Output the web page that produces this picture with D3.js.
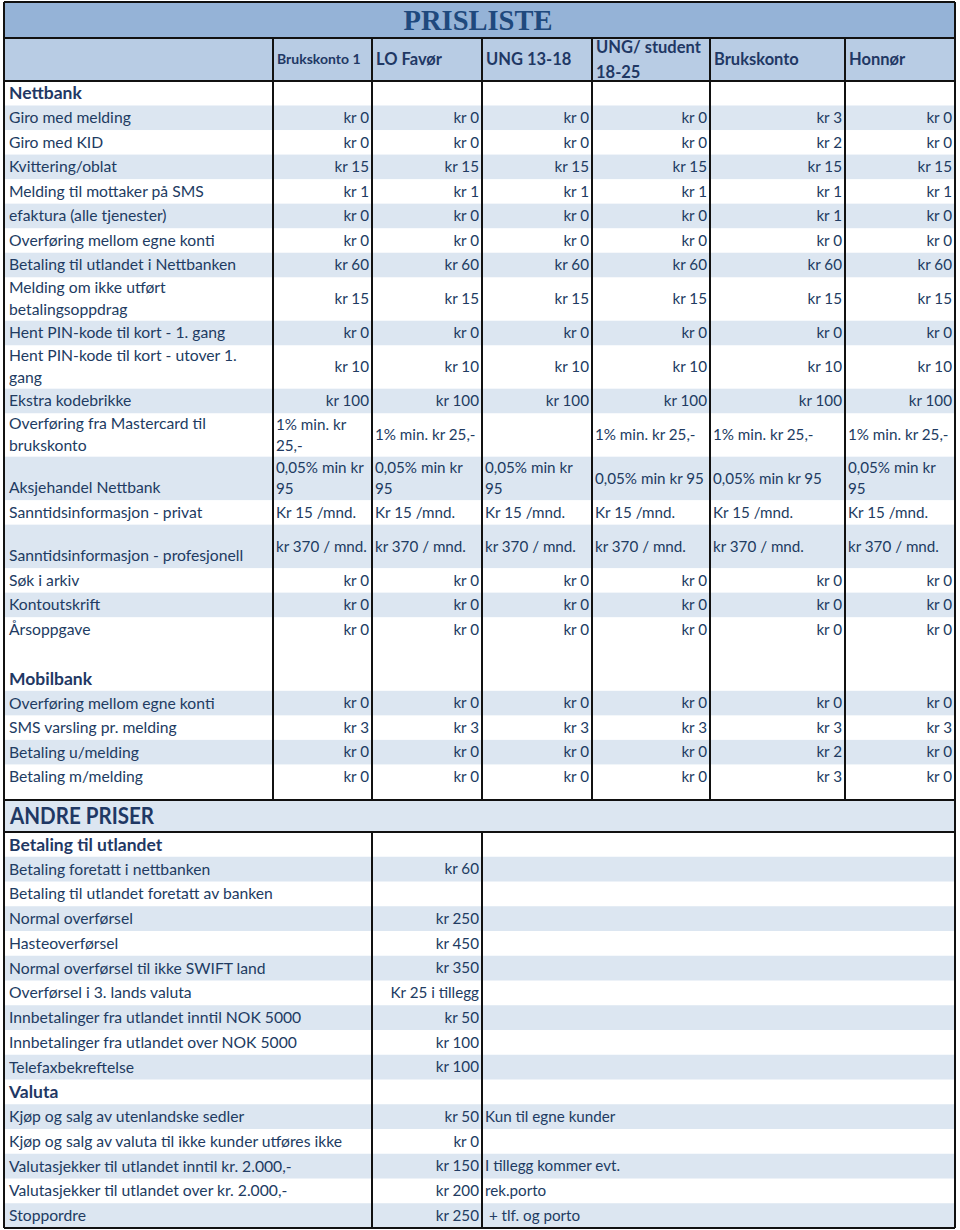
<!DOCTYPE html>
<html><head><meta charset="utf-8">
<script src="https://cdn.jsdelivr.net/npm/d3@7"></script>
<style>body{margin:0;background:#fff}</style>
</head><body><svg id="c" width="960" height="1230"></svg>
<script>
// ---------- DATA ----------
const title = "PRISLISTE";
const columns = ["Brukskonto 1", "LO Favør", "UNG 13-18", "UNG/ student\n18-25", "Brukskonto", "Honnør"];

const nettbankTitle = "Nettbank";
const nettbankLabels = [
  "Giro med melding", "Giro med KID", "Kvittering/oblat", "Melding til mottaker på SMS",
  "efaktura (alle tjenester)", "Overføring mellom egne konti", "Betaling til utlandet i Nettbanken",
  "Melding om ikke utført\nbetalingsoppdrag", "Hent PIN-kode til kort - 1. gang",
  "Hent PIN-kode til kort - utover 1.\ngang", "Ekstra kodebrikke",
  "Overføring fra Mastercard til\nbrukskonto", "Aksjehandel Nettbank",
  "Sanntidsinformasjon - privat", "Sanntidsinformasjon - profesjonell",
  "Søk i arkiv", "Kontoutskrift", "Årsoppgave"
];
const nettbankPrices = [
  ["kr 0", "kr 0", "kr 0", "kr 0", "kr 3", "kr 0"],
  ["kr 0", "kr 0", "kr 0", "kr 0", "kr 2", "kr 0"],
  ["kr 15", "kr 15", "kr 15", "kr 15", "kr 15", "kr 15"],
  ["kr 1", "kr 1", "kr 1", "kr 1", "kr 1", "kr 1"],
  ["kr 0", "kr 0", "kr 0", "kr 0", "kr 1", "kr 0"],
  ["kr 0", "kr 0", "kr 0", "kr 0", "kr 0", "kr 0"],
  ["kr 60", "kr 60", "kr 60", "kr 60", "kr 60", "kr 60"],
  ["kr 15", "kr 15", "kr 15", "kr 15", "kr 15", "kr 15"],
  ["kr 0", "kr 0", "kr 0", "kr 0", "kr 0", "kr 0"],
  ["kr 10", "kr 10", "kr 10", "kr 10", "kr 10", "kr 10"],
  ["kr 100", "kr 100", "kr 100", "kr 100", "kr 100", "kr 100"],
  ["1% min. kr\n25,-", "1% min. kr 25,-", "", "1% min. kr 25,-", "1% min. kr 25,-", "1% min. kr 25,-"],
  ["0,05% min kr\n95", "0,05% min kr\n95", "0,05% min kr\n95", "0,05% min kr 95", "0,05% min kr 95", "0,05% min kr\n95"],
  ["Kr 15 /mnd.", "Kr 15 /mnd.", "Kr 15 /mnd.", "Kr 15 /mnd.", "Kr 15 /mnd.", "Kr 15 /mnd."],
  ["kr 370 / mnd.", "kr 370 / mnd.", "kr 370 / mnd.", "kr 370 / mnd.", "kr 370 / mnd.", "kr 370 / mnd."],
  ["kr 0", "kr 0", "kr 0", "kr 0", "kr 0", "kr 0"],
  ["kr 0", "kr 0", "kr 0", "kr 0", "kr 0", "kr 0"],
  ["kr 0", "kr 0", "kr 0", "kr 0", "kr 0", "kr 0"]
];

const mobilbankTitle = "Mobilbank";
const mobilbankLabels = ["Overføring mellom egne konti", "SMS varsling pr. melding", "Betaling u/melding", "Betaling m/melding"];
const mobilbankPrices = [
  ["kr 0", "kr 0", "kr 0", "kr 0", "kr 0", "kr 0"],
  ["kr 3", "kr 3", "kr 3", "kr 3", "kr 3", "kr 3"],
  ["kr 0", "kr 0", "kr 0", "kr 0", "kr 2", "kr 0"],
  ["kr 0", "kr 0", "kr 0", "kr 0", "kr 3", "kr 0"]
];

const otherTitle = "ANDRE PRISER";
const utlandetTitle = "Betaling til utlandet";
const utlandetLabels = [
  "Betaling foretatt i nettbanken", "Betaling til utlandet foretatt av banken", "Normal overførsel",
  "Hasteoverførsel", "Normal overførsel til ikke SWIFT land", "Overførsel i 3. lands valuta",
  "Innbetalinger fra utlandet inntil NOK 5000", "Innbetalinger fra utlandet over NOK 5000", "Telefaxbekreftelse"
];
const utlandetPrices = ["kr 60", "", "kr 250", "kr 450", "kr 350", "Kr 25 i tillegg", "kr 50", "kr 100", "kr 100"];
const utlandetNotes = ["", "", "", "", "", "", "", "", ""];

const valutaTitle = "Valuta";
const valutaLabels = [
  "Kjøp og salg av utenlandske sedler", "Kjøp og salg av valuta til ikke kunder utføres ikke",
  "Valutasjekker til utlandet inntil kr. 2.000,-", "Valutasjekker til utlandet over kr. 2.000,-", "Stoppordre"
];
const valutaPrices = ["kr 50", "kr 0", "kr 150", "kr 200", "kr 250"];
const valutaNotes = ["Kun til egne kunder", "", "I tillegg kommer evt.", "rek.porto", " + tlf. og porto"];

// ---------- LAYOUT ----------
const svg = d3.select("#c");
const FONT = "Lato, 'Open Sans', sans-serif";
const TXT = "#213b62", BOLD = "#1f3864";
const BLUE = "#dce6f1", HEAD = "#b8cce4", TITLE = "#95b3d7";
const L = 4, R = 955;
const LAB = 15.7, VAL = 15.2;

// column scale (upper part)
const colEdges = [273, 372, 482, 592, 710, 845, 955];
const xCol = d3.scaleOrdinal().domain(d3.range(columns.length)).range(colEdges.slice(0, -1));
const wCol = i => colEdges[i + 1] - colEdges[i];

// build upper rows
const upper = [];
upper.push({type: "head", h: 1.75});
upper.push({type: "section", label: nettbankTitle, h: 1});
nettbankLabels.forEach((lab, i) => {
  const multi = lab.includes("\n") || nettbankPrices[i].some(v => v.includes("\n")) || i === 14;
  upper.push({type: "data", label: lab, values: nettbankPrices[i], fill: i % 2 === 0, h: multi ? 1.77 : 1});
});
upper.push({type: "blank", h: 1});
upper.push({type: "section", label: mobilbankTitle, h: 1});
mobilbankLabels.forEach((lab, i) => {
  upper.push({type: "data", label: lab, values: mobilbankPrices[i], fill: i % 2 === 0, h: 1});
});
upper.push({type: "blank", h: 0.45});

let acc = 0;
upper.forEach(r => { r.u0 = acc; acc += r.h; r.u1 = acc; });
const yU = d3.scaleLinear().domain([0, acc]).range([38, 800]);

// lower rows
const lower = [];
lower.push({type: "section", label: utlandetTitle});
utlandetLabels.forEach((lab, i) => lower.push({type: "data", label: lab, price: utlandetPrices[i], note: utlandetNotes[i], fill: i % 2 === 0}));
lower.push({type: "section", label: valutaTitle});
valutaLabels.forEach((lab, i) => lower.push({type: "data", label: lab, price: valutaPrices[i], note: valutaNotes[i], fill: i % 2 === 0}));
const yL = d3.scaleBand().domain(d3.range(lower.length)).range([832, 1228]).padding(0);
const lowEdges = [L, 372, 482, R];

function text(g, str, x, yc, anchor, size, weight, color, spacing) {
  const lines = str.split("\n");
  const sp = spacing || 21;
  lines.forEach((ln, k) => {
    g.append("text")
      .attr("x", x)
      .attr("y", yc + (k - (lines.length - 1) / 2) * sp)
      .attr("dy", "0.35em")
      .attr("text-anchor", anchor)
      .attr("font-family", FONT)
      .attr("font-size", size)
      .attr("font-weight", weight || 400)
      .attr("fill", color || TXT)
      .style("white-space", "pre")
      .text(ln);
  });
}

// title row
svg.append("rect").attr("x", L).attr("y", 2).attr("width", R - L).attr("height", 36).attr("fill", TITLE);
svg.append("text").attr("x", 478).attr("y", 30).attr("text-anchor", "middle")
  .attr("font-family", "'Liberation Serif', 'DejaVu Serif', serif").attr("font-weight", 700)
  .attr("font-size", 28.5).attr("fill", "#1f497d").text(title);

// upper rows
const gU = svg.append("g");
upper.forEach(r => {
  const y0 = yU(r.u0), y1 = yU(r.u1), yc = (y0 + y1) / 2;
  if (r.type === "head") {
    gU.append("rect").attr("x", L).attr("y", y0).attr("width", R - L).attr("height", y1 - y0).attr("fill", HEAD);
    columns.forEach((c, i) => {
      text(gU, c, xCol(i) + 4, yc, "start", i === 0 ? 14 : 16.5, 700, BOLD, 25);
    });
  } else if (r.type === "section") {
    text(gU, r.label, 9, yc, "start", 17.5, 700, BOLD);
  } else if (r.type === "data") {
    if (r.fill) gU.append("rect").attr("x", L).attr("y", y0).attr("width", R - L).attr("height", y1 - y0).attr("fill", BLUE);
    const tall = r.h > 1.2;
    if (r.label.includes("\n")) text(gU, r.label, 9, yc, "start", LAB, 400, TXT, 22);
    else if (tall) text(gU, r.label, 9, y1 - 13, "start", LAB, 400, TXT);
    else text(gU, r.label, 9, yc, "start", LAB, 400, TXT);
    r.values.forEach((v, i) => {
      if (!v) return;
      const right = /^kr \d+$/.test(v);
      const x = right ? xCol(i) + wCol(i) - 3 : xCol(i) + 3;
      text(gU, v, x, yc, right ? "end" : "start", VAL, 400, TXT, 21);
    });
  }
});

// ANDRE PRISER band
svg.append("rect").attr("x", L).attr("y", 800).attr("width", R - L).attr("height", 32).attr("fill", BLUE);
svg.append("text").attr("x", 10).attr("y", 816).attr("dy", "0.35em")
  .attr("font-family", FONT).attr("font-size", 23).attr("font-weight", 700).attr("fill", BOLD)
  .attr("textLength", 144).attr("lengthAdjust", "spacingAndGlyphs").text(otherTitle);

// lower rows
const gL = svg.append("g");
lower.forEach((r, i) => {
  const y0 = yL(i), h = yL.bandwidth(), yc = y0 + h / 2;
  if (r.type === "section") {
    text(gL, r.label, 9, yc, "start", 17.5, 700, BOLD);
  } else {
    if (r.fill) gL.append("rect").attr("x", L).attr("y", y0).attr("width", R - L).attr("height", h).attr("fill", BLUE);
    text(gL, r.label, 9, yc, "start", LAB, 400, TXT);
    if (r.price) text(gL, r.price, lowEdges[2] - 3, yc, "end", VAL, 400, TXT);
    if (r.note) text(gL, r.note, lowEdges[2] + 3, yc, "start", VAL, 400, TXT);
  }
});

// grid lines
const lines = svg.append("g").attr("stroke", "#111").attr("stroke-width", 2);
[2, 38, 81, 800, 832, 1228].forEach(y => lines.append("line").attr("x1", L).attr("x2", R).attr("y1", y).attr("y2", y));
[L, R].forEach(x => lines.append("line").attr("x1", x).attr("x2", x).attr("y1", 2).attr("y2", 1228));
colEdges.slice(0, -1).forEach(x => lines.append("line").attr("x1", x).attr("x2", x).attr("y1", 38).attr("y2", 800));
lowEdges.slice(1, -1).forEach(x => lines.append("line").attr("x1", x).attr("x2", x).attr("y1", 832).attr("y2", 1228));
</script>
</body></html>
